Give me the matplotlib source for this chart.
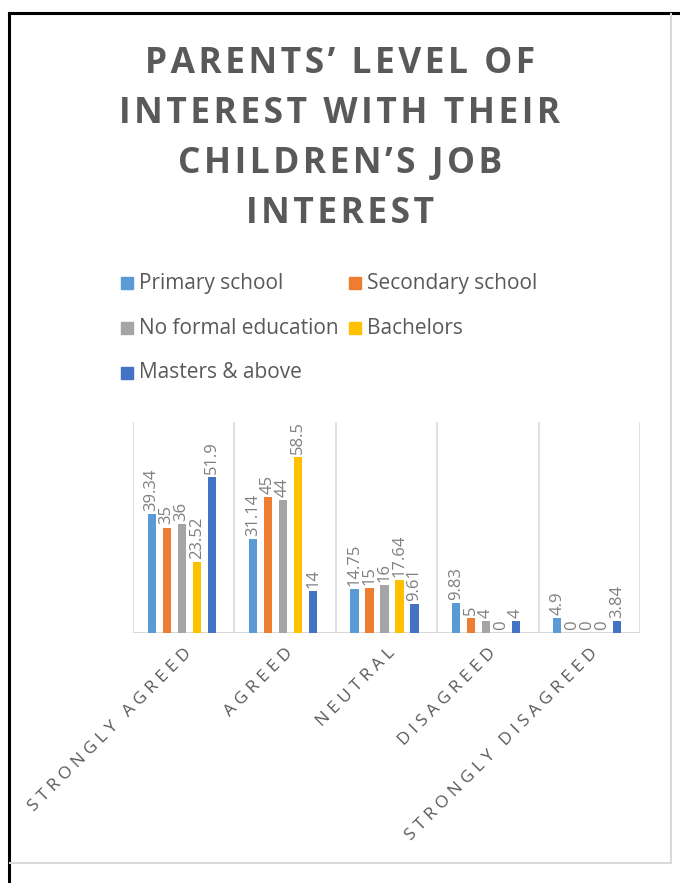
import matplotlib
matplotlib.use("Agg")
import matplotlib.pyplot as plt
from matplotlib.patches import Rectangle
from matplotlib.lines import Line2D
import numpy as np

categories = ["STRONGLY AGREED", "AGREED", "NEUTRAL", "DISAGREED", "STRONGLY DISAGREED"]
series_names = ["Primary school", "Secondary school", "No formal education", "Bachelors", "Masters & above"]
primary = [39.34, 31.14, 14.75, 9.83, 4.9]
secondary = [35, 45, 15, 5, 0]
no_formal = [36, 44, 16, 4, 0]
bachelors = [23.52, 58.5, 17.64, 0, 0]
masters = [51.9, 14, 9.61, 4, 3.84]
title = "PARENTS’ LEVEL OF\nINTEREST WITH THEIR\nCHILDREN’S JOB\nINTEREST"

series = [primary, secondary, no_formal, bachelors, masters]
colors = ["#5B9BD5", "#ED7D31", "#A5A5A5", "#FFC000", "#4472C4"]
TXT = "#595959"
FAM = ["Open Sans", "DejaVu Sans"]

def spaced(s, sep="\u200a"):
    return sep.join(list(s))

W, H = 680, 883
fig = plt.figure(figsize=(W / 100, H / 100), dpi=100)

def fx(x):
    return x / W

def fy(y):
    return 1 - y / H

# frame lines
fig.add_artist(Line2D([fx(9), fx(9)], [fy(13), fy(883)], color="black", lw=2.2, transform=fig.transFigure))
fig.add_artist(Line2D([fx(9), fx(680)], [fy(13), fy(13)], color="black", lw=2.2, transform=fig.transFigure))
fig.add_artist(Line2D([fx(671), fx(671)], [fy(14), fy(863)], color="#d9d9d9", lw=1.5, transform=fig.transFigure))
fig.add_artist(Line2D([fx(10), fx(671)], [fy(863), fy(863)], color="#d9d9d9", lw=1.5, transform=fig.transFigure))

ax = fig.add_axes([fx(133), fy(633), fx(640) - fx(133), fy(422) - fy(633)])
n = len(categories)
x = np.arange(n)
spacing = 0.148
bw = 0.08
for i, (vals, c) in enumerate(zip(series, colors)):
    off = (i - 2) * spacing - 0.02
    ax.bar(x + off, vals, width=bw, color=c, zorder=3, label=series_names[i])
    for xi, v in zip(x, vals):
        lab = f"{v:g}"
        ax.text(xi + off, v + 1.0, lab, rotation=90, ha="center", va="bottom",
                fontsize=12, color="#7f7f7f", family=FAM, zorder=4)

ax.set_xlim(-0.5, n - 0.5)
ax.set_ylim(0, 70)
for b in np.arange(-0.5, n, 1.0):
    ax.axvline(b, color="#d9d9d9", lw=1.2, zorder=1)
ax.axhline(0, color="#d9d9d9", lw=1.5, zorder=2)
for s in ax.spines.values():
    s.set_visible(False)
ax.set_yticks([])
ax.set_xticks(x)
ax.set_xticklabels([spaced(c, "\u2009\u200a") for c in categories], rotation=45, ha="right", va="top",
                   rotation_mode="anchor", fontsize=12.5, color=TXT, family=FAM)
ax.tick_params(axis="x", length=0, pad=9)

# title
fig.text(fx(340), fy(139), "\n".join(spaced(l, "\u200a") for l in title.split("\n")),
         ha="center", va="center", fontsize=25.5, fontweight="bold", color=TXT,
         family=FAM, linespacing=1.53)

# legend
leg_items = [(127, 283, 0), (355, 283, 1), (127, 328, 2), (355, 328, 3), (127, 373, 4)]
for lx, ly, i in leg_items:
    fig.add_artist(Rectangle((fx(lx - 6), fy(ly + 6)), fx(12), fy(0) - fy(12),
                             color=colors[i], transform=fig.transFigure))
    fig.text(fx(lx + 12), fy(ly), series_names[i], ha="left", va="center",
             fontsize=15, color=TXT, family=FAM)

fig.savefig("out.png", dpi=100)
